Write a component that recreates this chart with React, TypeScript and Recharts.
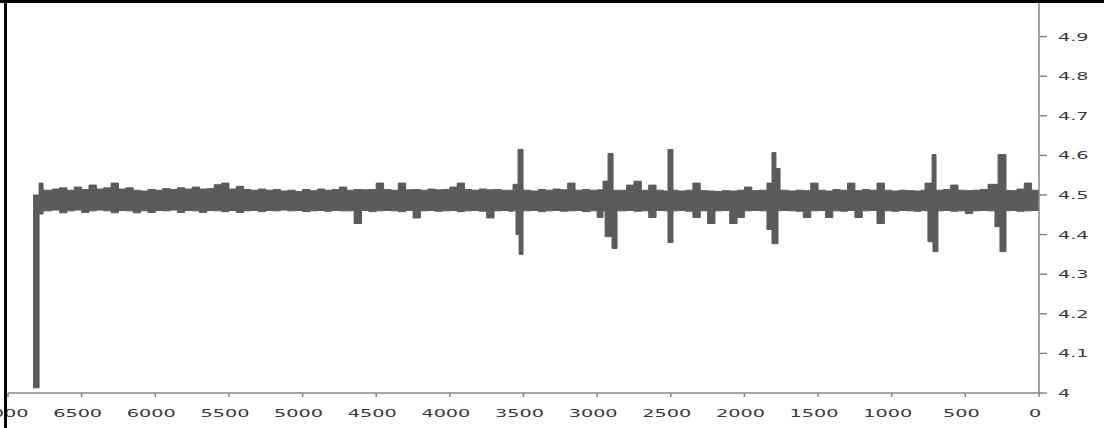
import React from "react";
import { Area, AreaChart, XAxis, YAxis } from "recharts";

const xTicks = [7000, 6500, 6000, 5500, 5000, 4500, 4000, 3500, 3000, 2500, 2000, 1500, 1000, 500, 0];
const yTicks = [4, 4.1, 4.2, 4.3, 4.4, 4.5, 4.6, 4.7, 4.8, 4.9];

// sample positions where the band envelope changes
const sampleX = [
  6830, 6789, 6762, 6700, 6650, 6600, 6550, 6500, 6450, 6400, 6350, 6300, 6250, 6200, 6150, 6100,
  6050, 6000, 5950, 5900, 5850, 5800, 5750, 5700, 5650, 5600, 5550, 5500, 5450, 5400, 5350, 5300,
  5250, 5200, 5150, 5100, 5050, 5000, 4950, 4900, 4850, 4800, 4750, 4700, 4650, 4600, 4550, 4500,
  4450, 4400, 4350, 4300, 4250, 4200, 4150, 4100, 4050, 4000, 3950, 3900, 3850, 3800, 3750, 3700,
  3650, 3600, 3571, 3551, 3537, 3530, 3503, 3450, 3400, 3350, 3300, 3250, 3200, 3150, 3100, 3050,
  3000, 2960, 2946, 2926, 2899, 2892, 2865, 2800, 2750, 2700, 2650, 2600, 2550, 2519, 2485, 2450,
  2400, 2350, 2300, 2250, 2200, 2150, 2100, 2050, 2000, 1950, 1900, 1847, 1813, 1786, 1772, 1758,
  1700, 1650, 1600, 1550, 1500, 1450, 1400, 1350, 1300, 1250, 1200, 1150, 1100, 1050, 1000, 950,
  900, 850, 800, 774, 754, 726, 720, 699, 686, 650, 600, 550, 500, 450, 400, 350,
  346, 299, 278, 265, 224, 200, 150, 100, 50, 0,
];

const highs = [
  4.5, 4.53, 4.512, 4.515, 4.518, 4.512, 4.52, 4.514, 4.525, 4.515, 4.518, 4.53, 4.515, 4.518, 4.512, 4.51,
  4.514, 4.512, 4.516, 4.514, 4.518, 4.515, 4.52, 4.515, 4.516, 4.526, 4.53, 4.515, 4.522, 4.514, 4.512, 4.515,
  4.512, 4.514, 4.51, 4.512, 4.509, 4.514, 4.511, 4.515, 4.512, 4.514, 4.52, 4.512, 4.514, 4.513, 4.514, 4.53,
  4.514, 4.512, 4.53, 4.513, 4.514, 4.512, 4.515, 4.513, 4.514, 4.52, 4.53, 4.514, 4.512, 4.515, 4.513, 4.514,
  4.512, 4.512, 4.527, 4.527, 4.615, 4.615, 4.512, 4.51, 4.514, 4.512, 4.515, 4.513, 4.53, 4.512, 4.514, 4.512,
  4.513, 4.535, 4.535, 4.605, 4.605, 4.512, 4.512, 4.525, 4.535, 4.512, 4.525, 4.512, 4.51, 4.615, 4.512, 4.51,
  4.512, 4.53, 4.511, 4.51, 4.509, 4.511, 4.51, 4.512, 4.52, 4.511, 4.512, 4.53, 4.607, 4.567, 4.567, 4.512,
  4.51, 4.512, 4.511, 4.53, 4.512, 4.51, 4.514, 4.512, 4.53, 4.511, 4.514, 4.512, 4.53, 4.512, 4.51, 4.512,
  4.511, 4.51, 4.512, 4.53, 4.53, 4.602, 4.602, 4.512, 4.512, 4.514, 4.525, 4.512, 4.511, 4.512, 4.514, 4.512,
  4.527, 4.527, 4.602, 4.602, 4.512, 4.511, 4.515, 4.53, 4.512, 4.512,
];

const lows = [
  4.013, 4.452, 4.46, 4.462, 4.455, 4.46, 4.462, 4.456, 4.46, 4.462, 4.46, 4.455, 4.461, 4.46, 4.455, 4.46,
  4.456, 4.461, 4.46, 4.462, 4.456, 4.461, 4.46, 4.456, 4.461, 4.46, 4.458, 4.461, 4.456, 4.46, 4.461, 4.458,
  4.461, 4.46, 4.462, 4.46, 4.461, 4.458, 4.46, 4.461, 4.459, 4.461, 4.46, 4.46, 4.428, 4.461, 4.458, 4.46,
  4.461, 4.46, 4.458, 4.461, 4.442, 4.46, 4.461, 4.459, 4.46, 4.461, 4.458, 4.46, 4.461, 4.459, 4.442, 4.46,
  4.461, 4.459, 4.46, 4.4, 4.4, 4.35, 4.46, 4.461, 4.458, 4.46, 4.461, 4.459, 4.46, 4.461, 4.458, 4.46,
  4.443, 4.46, 4.395, 4.395, 4.365, 4.365, 4.46, 4.461, 4.459, 4.46, 4.443, 4.461, 4.46, 4.38, 4.46, 4.461,
  4.459, 4.443, 4.46, 4.428, 4.46, 4.461, 4.428, 4.443, 4.46, 4.461, 4.46, 4.413, 4.377, 4.377, 4.46, 4.461,
  4.46, 4.459, 4.443, 4.46, 4.461, 4.443, 4.46, 4.459, 4.461, 4.443, 4.46, 4.461, 4.428, 4.46, 4.459, 4.461,
  4.46, 4.459, 4.461, 4.46, 4.382, 4.382, 4.357, 4.357, 4.46, 4.461, 4.459, 4.46, 4.453, 4.46, 4.461, 4.46,
  4.46, 4.42, 4.42, 4.357, 4.46, 4.461, 4.459, 4.46, 4.461, 4.46,
];

const data = sampleX.map((x, i) => ({ x, band: [lows[i], highs[i]] }));

const TEXT = "#3a3a3a";
const AXIS = "#878787";
const SERIES = "#5b5b5b";
const FONT = "'DejaVu Sans', Verdana, sans-serif";

function XTick({ x, y, payload }: any) {
  return (
    <g transform={`translate(${x - 4},${y})`}>
      <text textAnchor="middle" dy={18} fontSize={11} fill={TEXT} fontFamily={FONT} transform="scale(1.75,1)">
        {payload.value}
      </text>
    </g>
  );
}

function YTick({ x, y, payload }: any) {
  return (
    <g transform={`translate(${x},${y})`}>
      <text textAnchor="start" dy={4} fontSize={11} fill={TEXT} fontFamily={FONT} transform="scale(1.75,1)">
        {payload.value}
      </text>
    </g>
  );
}

export default function App() {
  return (
    <div style={{ position: "absolute", left: 0, top: 0, width: 1104, height: 428, overflow: "hidden", background: "#fff" }}>
      <div style={{ position: "absolute", left: 0, top: -3 }}>
        <AreaChart width={1104} height={431} data={data} margin={{ top: 0, right: 15, bottom: 5, left: 8 }}>
          <XAxis
            type="number"
            dataKey="x"
            domain={[0, 7000]}
            reversed
            ticks={xTicks}
            interval={0}
            height={30}
            tickSize={4}
            tickMargin={2}
            axisLine={{ stroke: AXIS, strokeWidth: 1.5 }}
            tickLine={{ stroke: AXIS, strokeWidth: 1.5 }}
            tick={<XTick />}
          />
          <YAxis
            orientation="right"
            domain={[4, 5]}
            ticks={yTicks}
            interval={0}
            width={50}
            tickSize={8}
            tickMargin={11}
            axisLine={{ stroke: AXIS, strokeWidth: 1.5 }}
            tickLine={{ stroke: AXIS, strokeWidth: 1.5 }}
            tick={<YTick />}
          />
          <Area
            dataKey="band"
            type="stepAfter"
            stroke={SERIES}
            strokeWidth={1}
            fill={SERIES}
            fillOpacity={1}
            dot={false}
            activeDot={false}
            isAnimationActive={false}
          />
        </AreaChart>
      </div>
      <div style={{ position: "absolute", left: 0, top: 0, width: 1104, height: 3, background: "#000" }} />
      <div style={{ position: "absolute", left: 4, top: 0, width: 3, height: 428, background: "#000" }} />
    </div>
  );
}
